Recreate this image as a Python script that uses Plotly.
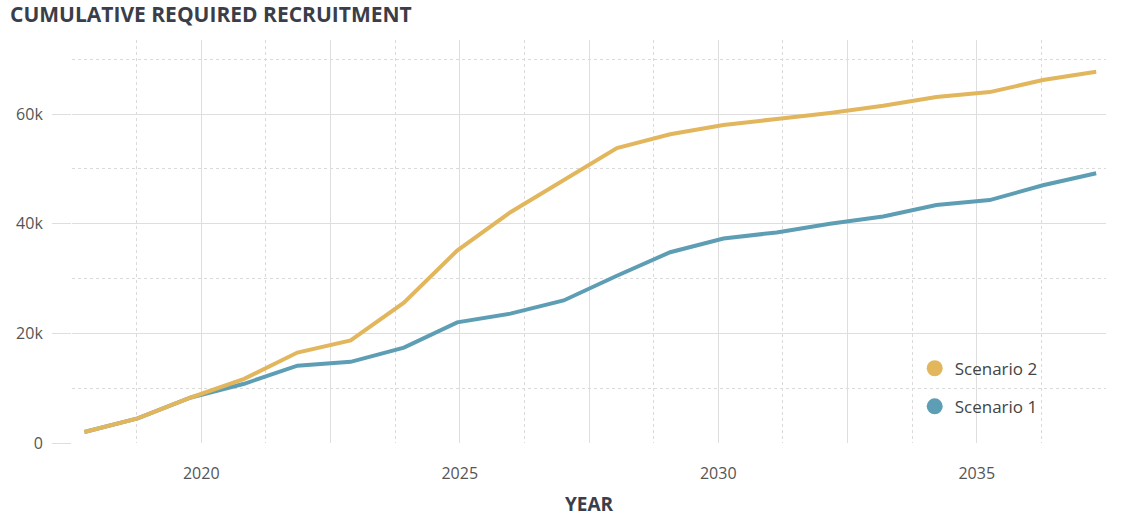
import plotly.graph_objects as go

# ---- data ----
years = [2017.74, 2018.77, 2019.80, 2020.83, 2021.86, 2022.89, 2023.92, 2024.95,
         2025.98, 2027.01, 2028.04, 2029.07, 2030.10, 2031.13, 2032.16, 2033.19,
         2034.22, 2035.25, 2036.28, 2037.31]
scenario_2 = [2000, 4500, 8300, 11700, 16500, 18700, 25600, 35100, 42100, 47900,
              53800, 56300, 58000, 59100, 60200, 61500, 63100, 64000, 66200, 67700]
scenario_1 = [2000, 4500, 8300, 10800, 14100, 14800, 17400, 22000, 23600, 26000,
              30500, 34800, 37300, 38400, 40000, 41300, 43400, 44300, 47000, 49200]

x_grid = [2017.5, 2020, 2022.5, 2025, 2027.5, 2030, 2032.5, 2035, 2037.5]
x_labels = ["", "2020", "", "2025", "", "2030", "", "2035", ""]
y_ticks = [0, 20000, 40000, 60000]
y_labels = ["0", "20k", "40k", "60k"]

YELLOW = "#E2B65C"
BLUE = "#5E9EB5"
FONT = "Open Sans"

fig = go.Figure()
fig.add_trace(go.Scatter(x=years, y=scenario_1, mode="lines", name="Scenario 1",
                         line=dict(color=BLUE, width=4), showlegend=False))
fig.add_trace(go.Scatter(x=years, y=scenario_2, mode="lines", name="Scenario 2",
                         line=dict(color=YELLOW, width=4), showlegend=False))
# legend entries (dots)
fig.add_trace(go.Scatter(x=[None], y=[None], mode="markers", name="Scenario 2",
                         marker=dict(color=YELLOW, size=16), legendgroup="s2",
                         legendrank=1))
fig.add_trace(go.Scatter(x=[None], y=[None], mode="markers", name="Scenario 1",
                         marker=dict(color=BLUE, size=16), legendgroup="s1",
                         legendrank=2))

fig.update_layout(
    width=1128, height=517,
    margin=dict(l=72, r=22, t=40, b=74),
    paper_bgcolor="white", plot_bgcolor="white",
    font=dict(family=FONT, color="#555555", size=16),
    title=dict(text="<b>CUMULATIVE REQUIRED RECRUITMENT</b>",
               x=10 / 1128, xanchor="left", xref="container",
               y=1 - 15 / 517, yanchor="middle", yref="container",
               font=dict(family=FONT, size=21, color="#3B3E48")),
    legend=dict(x=0.815, xanchor="left", y=0.229, yanchor="top",
                bgcolor="rgba(0,0,0,0)", traceorder="grouped",
                tracegroupgap=13, font=dict(size=17, color="#444444")),
    showlegend=True,
)

fig.update_xaxes(
    range=[2017.5, 2037.5], tickmode="array", tickvals=x_grid, ticktext=x_labels,
    showgrid=True, gridcolor="#DEDEDE", gridwidth=1, automargin=False,
    zeroline=False, showline=False, ticks="", ticklabelstandoff=19,
    minor=dict(tick0=2018.75, dtick=2.5, showgrid=True, gridcolor="#DADADA",
               griddash="dot", gridwidth=1),
    title=dict(text="<b>YEAR</b>", standoff=18,
               font=dict(family=FONT, size=19, color="#3B3E48")),
)
fig.update_yaxes(
    range=[0, 73500], tickmode="array", tickvals=y_ticks, ticktext=y_labels,
    showgrid=True, gridcolor="#DEDEDE", gridwidth=1, automargin=False,
    zeroline=False, showline=False,
    ticks="outside", ticklen=19, tickcolor="#DEDEDE", ticklabelstandoff=6,
    minor=dict(tickvals=[10000, 30000, 50000, 70000], showgrid=True,
               gridcolor="#DADADA", griddash="dot", gridwidth=1),
)

fig.write_html("out.html")
